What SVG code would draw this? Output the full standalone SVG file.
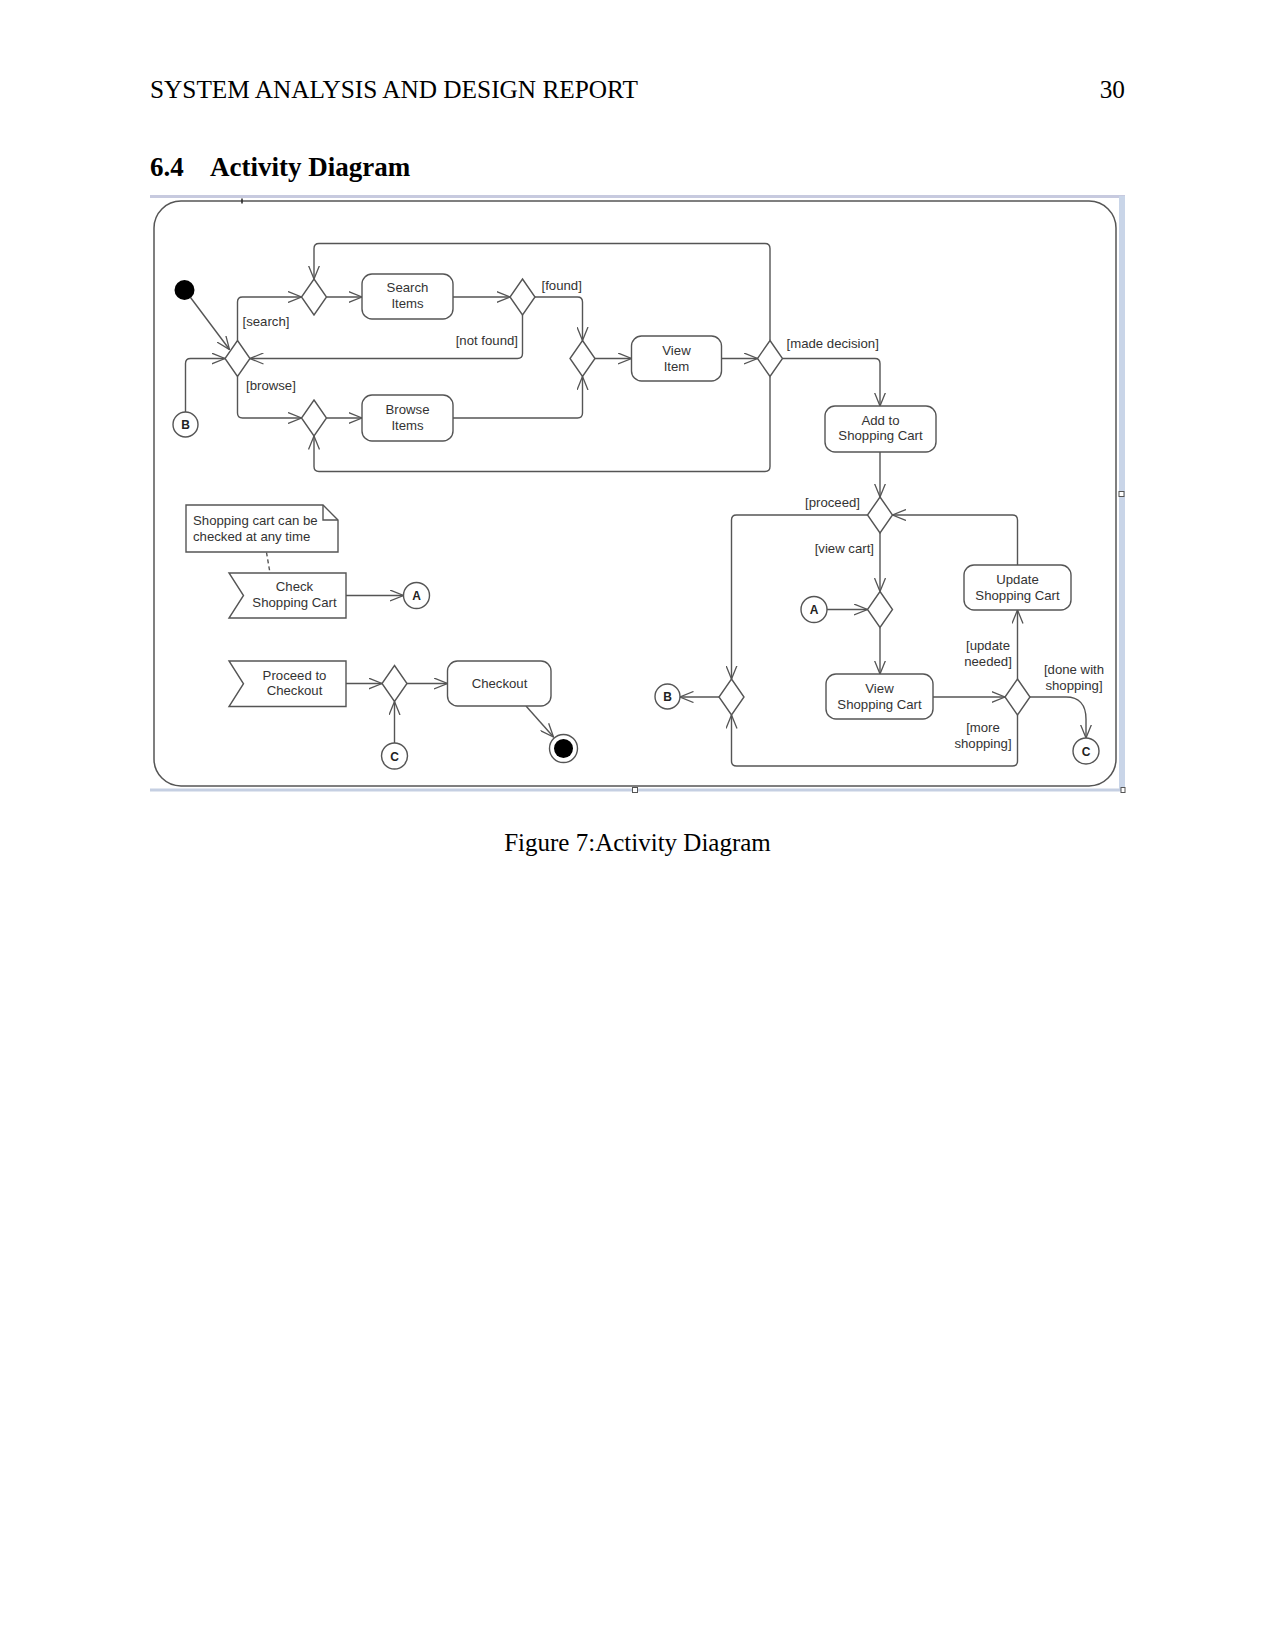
<svg xmlns="http://www.w3.org/2000/svg" xmlns:xlink="http://www.w3.org/1999/xlink" width="1275" height="1650" viewBox="0 0 1275 1650">
<style>
.page{font-family:"Liberation Serif","Times New Roman",serif;fill:#000}
.node{fill:#fff;stroke:#555;stroke-width:1.4}
.t{font-family:"Liberation Sans",Arial,sans-serif;font-size:13.2px;fill:#333}
.tm{text-anchor:middle}
.te{text-anchor:end}
.lt{font-family:"Liberation Sans",Arial,sans-serif;font-size:12px;font-weight:bold;fill:#222;text-anchor:middle}
.edge{fill:none;stroke:#555;stroke-width:1.4}
.arr{marker-end:url(#v)}
</style>
<defs>
<marker id="v" viewBox="0 0 14 12" refX="13.5" refY="6" markerWidth="14" markerHeight="12" markerUnits="userSpaceOnUse" orient="auto">
<path d="M0,0.5 L13.5,6 L0,11.5" fill="none" stroke="#555" stroke-width="1.3"/>
</marker>
<polygon id="dia" points="0,-18 12.5,0 0,18 -12.5,0"/>
</defs>
<rect width="1275" height="1650" fill="#fff"/>

<g id="page-text" class="page">
<text x="150" y="98" font-size="25.3">SYSTEM ANALYSIS AND DESIGN REPORT</text>
<text x="1125" y="98" font-size="25.3" text-anchor="end">30</text>
<text x="150" y="175.5" font-size="27" font-weight="bold">6.4</text>
<text x="210" y="175.5" font-size="27" font-weight="bold">Activity Diagram</text>
<text x="637.5" y="851" font-size="25" text-anchor="middle">Figure 7:Activity Diagram</text>
</g>

<g id="image-border">
<line x1="150" y1="196.5" x2="1125" y2="196.5" stroke="#c7cadf" stroke-width="3"/>
<rect x="1119" y="196" width="6" height="595" fill="#c9d5e8"/>
<line x1="150" y1="790" x2="1125" y2="790" stroke="#c5cfe2" stroke-width="3"/>
<rect x="632.5" y="787.5" width="5" height="5" fill="#fff" stroke="#555" stroke-width="1"/>
<rect x="1119" y="491.5" width="5" height="5" fill="#fff" stroke="#555" stroke-width="1"/>
<rect x="1121" y="787.5" width="4" height="5" fill="#fff" stroke="#555" stroke-width="1"/>
</g>

<g id="frame">
<rect x="154" y="201" width="962" height="585" rx="27" ry="27" fill="none" stroke="#555" stroke-width="1.5"/>
<line x1="242" y1="198.5" x2="242" y2="203.5" stroke="#222" stroke-width="1.5"/>
</g>

<g id="connectors">
<line class="edge arr" x1="190.5" y1="297.5" x2="229.5" y2="349.5"/>
<path class="edge arr" d="M237.5,340.5 V302 Q237.5,297 242.5,297 H301.5"/>
<path class="edge arr" d="M237.5,376.5 V413 Q237.5,418 242.5,418 H301.5"/>
<path class="edge arr" d="M185.5,412 V363.5 Q185.5,358.5 190.5,358.5 H225"/>
<path class="edge arr" d="M326.5,297 H362"/>
<path class="edge arr" d="M453,297 H510"/>
<path class="edge arr" d="M535,297 H577.5 Q582.5,297 582.5,302 V340.5"/>
<path class="edge arr" d="M522.5,315 V353.5 Q522.5,358.5 517.5,358.5 H250"/>
<path class="edge arr" d="M326.5,418 H362"/>
<path class="edge arr" d="M453,418 H577.5 Q582.5,418 582.5,413 V376.5"/>
<path class="edge arr" d="M595,358.5 H631.5"/>
<path class="edge arr" d="M721.5,358.5 H757.5"/>
<path class="edge arr" d="M770,340.5 V248.5 Q770,243.5 765,243.5 H319 Q314,243.5 314,248.5 V279"/>
<path class="edge arr" d="M770,376.5 V466.5 Q770,471.5 765,471.5 H319 Q314,471.5 314,466.5 V436"/>
<path class="edge arr" d="M782.5,358.5 H875 Q880,358.5 880,363.5 V406"/>
<path class="edge arr" d="M880,452 V497"/>
<path class="edge arr" d="M867.5,515 H736.5 Q731.5,515 731.5,520 V679"/>
<path class="edge arr" d="M719,697 H680"/>
<path class="edge arr" d="M880,533 V591.5"/>
<path class="edge arr" d="M827,609.5 H867.5"/>
<path class="edge arr" d="M880,627.5 V674"/>
<path class="edge arr" d="M933,697 H1005"/>
<path class="edge arr" d="M1017.5,679 V610"/>
<path class="edge arr" d="M1017.5,565 V520 Q1017.5,515 1012.5,515 H892.5"/>
<path class="edge arr" d="M1017.5,715 V761 Q1017.5,766 1012.5,766 H736.5 Q731.5,766 731.5,761 V715"/>
<path class="edge arr" d="M1030,697 H1066 C1079,697 1086,705 1086,719 V738"/>
<path class="edge arr" d="M346,595.5 H403.5"/>
<path class="edge arr" d="M346,683.5 H382"/>
<path class="edge arr" d="M407,683.5 H447.5"/>
<path class="edge arr" d="M394.5,743 V701.5"/>
<line class="edge arr" x1="526" y1="706" x2="553.5" y2="737"/>
<line class="edge" x1="266.5" y1="552.5" x2="270" y2="573" stroke-dasharray="4,3"/>

<g id="guards" class="t">
<text x="242.5" y="326">[search]</text>
<text x="246" y="390">[browse]</text>
<text x="541.5" y="289.5">[found]</text>
<text x="518" y="344.5" class="te">[not found]</text>
<text x="786.5" y="348">[made decision]</text>
<text x="860" y="507" class="te">[proceed]</text>
<text x="874" y="552.5" class="te">[view cart]</text>
<text x="988" y="649.5" class="tm">[update</text>
<text x="988" y="665.5" class="tm">needed]</text>
<text x="1074" y="673.5" class="tm">[done with</text>
<text x="1074" y="689.5" class="tm">shopping]</text>
<text x="983" y="732" class="tm">[more</text>
<text x="983" y="748" class="tm">shopping]</text>
</g>
</g>

<g id="initial"><circle cx="184.5" cy="290" r="10" fill="#000"/></g>
<g id="d1"><use xlink:href="#dia" class="node" x="237.5" y="358.5"/></g>
<g id="d2"><use xlink:href="#dia" class="node" x="314" y="297"/></g>
<g id="search-items">
<rect class="node" x="362" y="274" width="91" height="45" rx="10"/>
<text class="t tm" x="407.5" y="292">Search</text>
<text class="t tm" x="407.5" y="308">Items</text>
</g>
<g id="d3"><use xlink:href="#dia" class="node" x="522.5" y="297"/></g>
<g id="d4"><use xlink:href="#dia" class="node" x="582.5" y="358.5"/></g>
<g id="d5"><use xlink:href="#dia" class="node" x="314" y="418"/></g>
<g id="browse-items">
<rect class="node" x="362" y="395" width="91" height="46" rx="10"/>
<text class="t tm" x="407.5" y="414">Browse</text>
<text class="t tm" x="407.5" y="429.5">Items</text>
</g>
<g id="conn-b1"><circle class="node" cx="185.5" cy="424.5" r="12.5"/><text class="lt" x="185.5" y="429">B</text></g>
<g id="view-item">
<rect class="node" x="631.5" y="336" width="90" height="45" rx="10"/>
<text class="t tm" x="676.5" y="354.5">View</text>
<text class="t tm" x="676.5" y="370.5">Item</text>
</g>
<g id="d6"><use xlink:href="#dia" class="node" x="770" y="358.5"/></g>
<g id="add-to-cart">
<rect class="node" x="825" y="406" width="111" height="46" rx="10"/>
<text class="t tm" x="880.5" y="425">Add to</text>
<text class="t tm" x="880.5" y="440">Shopping Cart</text>
</g>
<g id="d7"><use xlink:href="#dia" class="node" x="880" y="515"/></g>
<g id="d8"><use xlink:href="#dia" class="node" x="731.5" y="697"/></g>
<g id="conn-b2"><circle class="node" cx="667.5" cy="696.5" r="12.5"/><text class="lt" x="667.5" y="701">B</text></g>
<g id="d9"><use xlink:href="#dia" class="node" x="880" y="609.5"/></g>
<g id="conn-a2"><circle class="node" cx="814" cy="609.5" r="13"/><text class="lt" x="814" y="614">A</text></g>
<g id="view-cart">
<rect class="node" x="826" y="674" width="107" height="45" rx="10"/>
<text class="t tm" x="879.5" y="692.5">View</text>
<text class="t tm" x="879.5" y="708.5">Shopping Cart</text>
</g>
<g id="d10"><use xlink:href="#dia" class="node" x="1017.5" y="697"/></g>
<g id="update-cart">
<rect class="node" x="964" y="565" width="107" height="45" rx="10"/>
<text class="t tm" x="1017.5" y="583.5">Update</text>
<text class="t tm" x="1017.5" y="599.5">Shopping Cart</text>
</g>
<g id="conn-c2"><circle class="node" cx="1086" cy="751" r="13"/><text class="lt" x="1086" y="755.5">C</text></g>
<g id="note">
<path class="node" d="M186,505 H323 L338,520 V552 H186 Z"/>
<path class="edge" d="M323,505 V520 H338"/>
<text class="t" x="193" y="525">Shopping cart can be</text>
<text class="t" x="193" y="540.5">checked at any time</text>
</g>
<g id="check-cart">
<polygon class="node" points="229,573 346,573 346,618 229,618 243.5,595.5"/>
<text class="t tm" x="294.5" y="591">Check</text>
<text class="t tm" x="294.5" y="607">Shopping Cart</text>
</g>
<g id="conn-a1"><circle class="node" cx="416.5" cy="595.5" r="13"/><text class="lt" x="416.5" y="600">A</text></g>
<g id="proceed-checkout">
<polygon class="node" points="229,661 346,661 346,706.5 229,706.5 243.5,683.75"/>
<text class="t tm" x="294.5" y="679.5">Proceed to</text>
<text class="t tm" x="294.5" y="695">Checkout</text>
</g>
<g id="d11"><use xlink:href="#dia" class="node" x="394.5" y="683.5"/></g>
<g id="checkout">
<rect class="node" x="447.5" y="661" width="103.5" height="45" rx="10"/>
<text class="t tm" x="499.5" y="687.5">Checkout</text>
</g>
<g id="conn-c1"><circle class="node" cx="394.5" cy="756" r="13"/><text class="lt" x="394.5" y="760.5">C</text></g>
<g id="final"><circle class="node" cx="563.5" cy="748.5" r="14"/><circle cx="563.5" cy="748.5" r="9.5" fill="#000"/></g>
</svg>
